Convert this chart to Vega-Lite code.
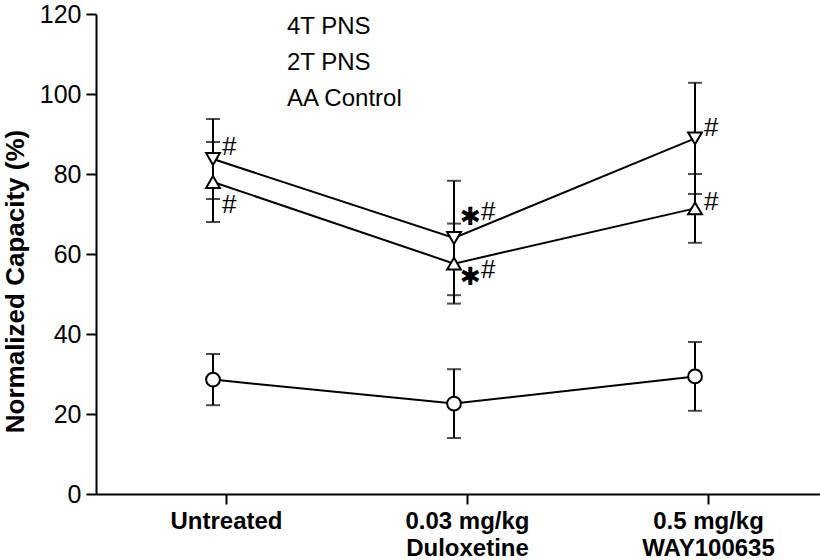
{
  "$schema": "https://vega.github.io/schema/vega-lite/v6.json",
  "width": 724,
  "height": 480,
  "autosize": "none",
  "padding": {"left": 96, "top": 14, "right": 0, "bottom": 66},
  "background": "white",
  "config": {
    "font": "Liberation Sans",
    "view": {"stroke": null},
    "axis": {"grid": false, "domainColor": "black", "domainWidth": 2, "tickColor": "black", "tickWidth": 2, "labelColor": "black", "titleColor": "black"}
  },
  "datasets": {
    "stats": [
      {"treatment": "Untreated", "series": "4T PNS", "mean": 83.75, "sem": 10},
      {"treatment": "0.03 mg/kg Duloxetine", "series": "4T PNS", "mean": 64, "sem": 14.3},
      {"treatment": "0.5 mg/kg WAY100635", "series": "4T PNS", "mean": 88.9, "sem": 13.9},
      {"treatment": "Untreated", "series": "2T PNS", "mean": 78, "sem": 10},
      {"treatment": "0.03 mg/kg Duloxetine", "series": "2T PNS", "mean": 57.6, "sem": 10},
      {"treatment": "0.5 mg/kg WAY100635", "series": "2T PNS", "mean": 71.4, "sem": 8.6},
      {"treatment": "Untreated", "series": "AA Control", "mean": 28.6, "sem": 6.4},
      {"treatment": "0.03 mg/kg Duloxetine", "series": "AA Control", "mean": 22.6, "sem": 8.6},
      {"treatment": "0.5 mg/kg WAY100635", "series": "AA Control", "mean": 29.4, "sem": 8.6}
    ],
    "notes": [
      {"treatment": "Untreated", "series": "4T PNS", "sym": "#", "value": 86.75},
      {"treatment": "Untreated", "series": "2T PNS", "sym": "#", "value": 72.25},
      {"treatment": "0.03 mg/kg Duloxetine", "series": "4T PNS", "sym": "#", "value": 70.5},
      {"treatment": "0.03 mg/kg Duloxetine", "series": "2T PNS", "sym": "#", "value": 56},
      {"treatment": "0.5 mg/kg WAY100635", "series": "4T PNS", "sym": "#", "value": 91.5},
      {"treatment": "0.5 mg/kg WAY100635", "series": "2T PNS", "sym": "#", "value": 73},
      {"treatment": "0.03 mg/kg Duloxetine", "series": "4T PNS", "sym": "✱", "value": 69.25},
      {"treatment": "0.03 mg/kg Duloxetine", "series": "2T PNS", "sym": "✱", "value": 54.25}
    ]
  },
  "encoding": {
    "x": {
      "field": "treatment",
      "type": "nominal",
      "sort": ["Untreated", "0.03 mg/kg Duloxetine", "0.5 mg/kg WAY100635"],
      "scale": {"type": "point", "padding": 0.502, "align": 0.4835},
      "axis": {
        "title": null,
        "labelAngle": 0,
        "labelFontSize": 24,
        "labelFontWeight": "bold",
        "labelPadding": 5,
        "labelLineHeight": 27,
        "tickSize": 10,
        "tickOffset": 13,
        "labelExpr": "indexof(datum.label,'mg/kg') > 0 ? [slice(datum.label,0,indexof(datum.label,'mg/kg')+5), slice(datum.label,indexof(datum.label,'mg/kg')+6)] : datum.label"
      }
    },
    "y": {
      "field": "mean",
      "type": "quantitative",
      "scale": {"domain": [0, 120], "nice": false},
      "axis": {
        "values": [0, 20, 40, 60, 80, 100, 120],
        "title": "Normalized Capacity (%)",
        "titleFontSize": 26,
        "titleFontWeight": "bold",
        "titleX": -81,
        "titleY": 267,
        "titleAlign": "center",
        "titleBaseline": "middle",
        "titleAngle": -90,
        "labelFontSize": 25,
        "labelPadding": 5,
        "tickSize": 10
      }
    }
  },
  "layer": [
    {
      "data": {"name": "stats"},
      "mark": {"type": "line", "color": "black", "strokeWidth": 2},
      "encoding": {"detail": {"field": "series"}}
    },
    {
      "data": {"name": "stats"},
      "mark": {"type": "errorbar", "color": "black", "rule": {"strokeWidth": 2}, "ticks": {"size": 14, "thickness": 2, "color": "black"}},
      "encoding": {"yError": {"field": "sem"}, "detail": {"field": "series"}}
    },
    {
      "data": {"name": "stats"},
      "mark": {"type": "point", "filled": true, "fill": "white", "stroke": "black", "strokeWidth": 2, "size": 190, "opacity": 1},
      "encoding": {
        "shape": {
          "field": "series",
          "type": "nominal",
          "scale": {"domain": ["4T PNS", "2T PNS", "AA Control"], "range": ["triangle-down", "triangle-up", "circle"]},
          "legend": null
        }
      }
    },
    {
      "data": {"name": "stats"},
      "mark": {"type": "point", "filled": false, "fill": "white", "color": "black", "stroke": "black", "strokeWidth": 2, "size": 0, "opacity": 1},
      "encoding": {
        "shape": {
          "field": "series",
          "type": "nominal",
          "scale": {
            "domain": ["4T PNS", "2T PNS", "AA Control"],
            "range": [
              "M-3.43,0H-0.67M0.67,0H3.43M-1,-0.5H1L0,1Z",
              "M-3.43,0H-0.67M0.67,0H3.43M-1,0.5H1L0,-1Z",
              "M-3.43,0H-0.86M0.86,0H3.43M0.86,0A0.86,0.86,0,1,1,-0.86,0A0.86,0.86,0,1,1,0.86,0Z"
            ]
          },
          "legend": {
            "title": null,
            "orient": "none",
            "legendX": 151,
            "legendY": 1,
            "padding": 0,
            "symbolSize": 196,
            "symbolStrokeWidth": 2,
            "symbolStrokeColor": "black",
            "symbolFillColor": "white",
            "labelFontSize": 24,
            "labelColor": "black",
            "labelOffset": 16,
            "rowPadding": 12,
            "encode": {
              "symbols": {
                "stroke": {"value": "black"},
                "strokeWidth": {"value": 2},
                "fill": {"value": "white"},
                "opacity": {"value": 1}
              }
            }
          }
        }
      }
    },
    {
      "data": {"name": "notes"},
      "transform": [{"filter": "datum.sym == '#' && datum.treatment != '0.03 mg/kg Duloxetine'"}],
      "mark": {"type": "text", "align": "left", "baseline": "middle", "dx": 9, "fontSize": 26, "color": "black"},
      "encoding": {"y": {"field": "value", "type": "quantitative"}, "text": {"field": "sym"}}
    },
    {
      "data": {"name": "notes"},
      "transform": [{"filter": "datum.sym == '#' && datum.treatment == '0.03 mg/kg Duloxetine'"}],
      "mark": {"type": "text", "align": "left", "baseline": "middle", "dx": 27, "fontSize": 26, "color": "black"},
      "encoding": {"y": {"field": "value", "type": "quantitative"}, "text": {"field": "sym"}}
    },
    {
      "data": {"name": "notes"},
      "transform": [{"filter": "datum.sym != '#'"}],
      "mark": {"type": "text", "align": "left", "baseline": "middle", "dx": 6, "fontSize": 25, "font": "DejaVu Sans", "fontWeight": "bold", "color": "black"},
      "encoding": {"y": {"field": "value", "type": "quantitative"}, "text": {"field": "sym"}}
    }
  ],
  "resolve": {"scale": {"shape": "independent"}, "legend": {"shape": "independent"}}
}
